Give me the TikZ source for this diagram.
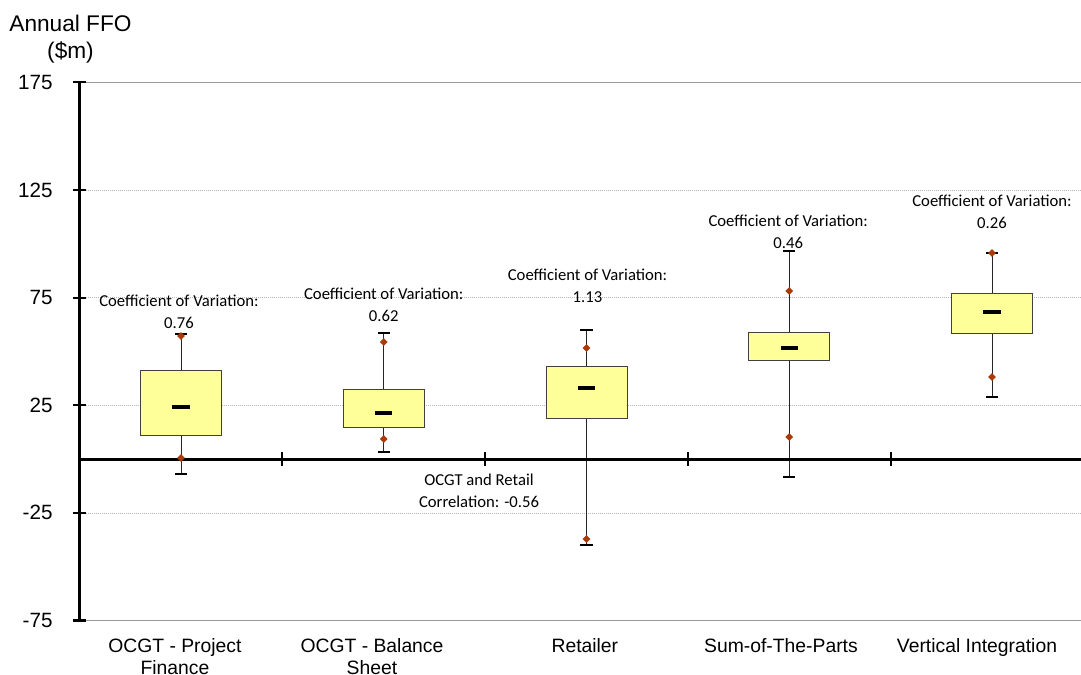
\documentclass[tikz,border=0pt]{standalone}
\usepackage{fontspec}
\setmainfont{Liberation Sans}
\newfontfamily\notefont{Carlito}
\usetikzlibrary{positioning,shapes.geometric}

\definecolor{boxfill}{RGB}{255,255,153}
\definecolor{dotred}{RGB}{170,58,8}

\begin{document}
\begin{tikzpicture}[
    x=152.06pt, y=1.614pt,
    every node/.style={font=\fontsize{14.25}{19.5}\selectfont, align=center},
    note/.style={font=\notefont\fontsize{12.5}{16.5}\selectfont, align=center, inner sep=0pt},
    ticklab/.style={anchor=east, inner sep=0pt, font=\fontsize{15.5}{18}\selectfont},
    catlab/.style={anchor=north, inner sep=0pt, font=\fontsize{14.5}{16.5}\selectfont},
    gridline/.style={gray!55, densely dotted, line width=0.5pt},
    frame/.style={gray!80, line width=0.8pt},
    axis/.style={black, line width=2.25pt},
    whisk/.style={black!85, line width=0.6pt},
    capline/.style={black, line width=1.6pt},
    qbox/.style={draw=black!75, fill=boxfill, line width=0.6pt},
    median/.style={black, line width=3pt},
    dot/.style={diamond, fill=dotred, draw=none, inner sep=0pt, minimum size=6pt}
]
\useasboundingbox (0.1073,-99.9) rectangle (5.439,213.3);

% grid
\foreach \v in {125,75,25,-25}
    \draw[gridline] (0.5,\v) -- (5.439,\v);
\draw[frame] (0.5,175) -- (5.439,175);
\draw[frame] (0.5,-75) -- (5.439,-75);

% y axis labels
\foreach \v in {175,125,75,25,-25,-75}
    \node[ticklab] (ytick\v) at (0.368,\v) {\v};
\node[font=\fontsize{17}{20}\selectfont] (ytitle) at (0.455,195.2) {Annual FFO\\(\$m)};

% boxes: index / lower cap / q1 / median / q3 / upper cap
\foreach \i/\lc/\qa/\md/\qb/\uc in {
    1/-7.0/11.2/24.2/41.4/58.1,
    2/3.3/14.9/21.4/32.5/58.6,
    3/-40.0/19.1/33.0/43.2/59.9,
    4/-8.4/46.0/51.6/59.0/96.7,
    5/28.8/58.6/68.3/77.1/95.7}
{
    \draw[whisk] (\i,\lc) -- (\i,\uc);
    \draw[capline] (\i-0.03,\lc) -- (\i+0.03,\lc);
    \draw[capline] (\i-0.03,\uc) -- (\i+0.03,\uc);
    \draw[qbox] (\i-0.2,\qa) rectangle (\i+0.2,\qb);
    \draw[median] (\i-0.042,\md) -- (\i+0.042,\md);
}

% x axis at zero
\draw[axis] (0.5,0) -- (5.439,0);
\foreach \t in {1.5,2.5,3.5,4.5}
    \draw[black, line width=1.6pt] (\t,-3.3) -- (\t,3.3);

% left axis
\draw[axis] (0.5,-75) -- (0.5,175);
\foreach \v in {175,125,75,25,-25,-75}
    \draw[black, line width=1.6pt] (0.468,\v) -- (0.532,\v);

% min / max dots
\foreach \i/\ld/\ud in {1/0.5/57.2, 2/9.3/54.4, 3/-37.2/51.6, 4/10.2/78.1, 5/38.1/95.7}
{
    \node[dot] (lo\i) at (\i,\ld) {};
    \node[dot] (hi\i) at (\i,\ud) {};
}

% coefficient of variation notes
\node[note] (cov1) at (0.99,68.3) {Coefficient of Variation:\\0.76};
\node[note] (cov2) at (2,71.5) {Coefficient of Variation:\\0.62};
\node[note] (cov3) at (3.005,80.6) {Coefficient of Variation:\\1.13};
\node[note] (cov4) at (3.995,105.7) {Coefficient of Variation:\\0.46};
\node[note] (cov5) at (5,115.0) {Coefficient of Variation:\\0.26};
\node[note] (corr) at (2.47,-14.8) {OCGT and Retail\\Correlation: -0.56};

% categories
\node[catlab] (cat1) at (0.970,-83.3) {OCGT - Project\\Finance};
\node[catlab] (cat2) at (1.942,-83.3) {OCGT - Balance\\Sheet};
\node[catlab] (cat3) at (2.992,-83.3) {Retailer};
\node[catlab] (cat4) at (3.959,-83.3) {Sum-of-The-Parts};
\node[catlab] (cat5) at (4.926,-83.3) {Vertical Integration};
\end{tikzpicture}
\end{document}
